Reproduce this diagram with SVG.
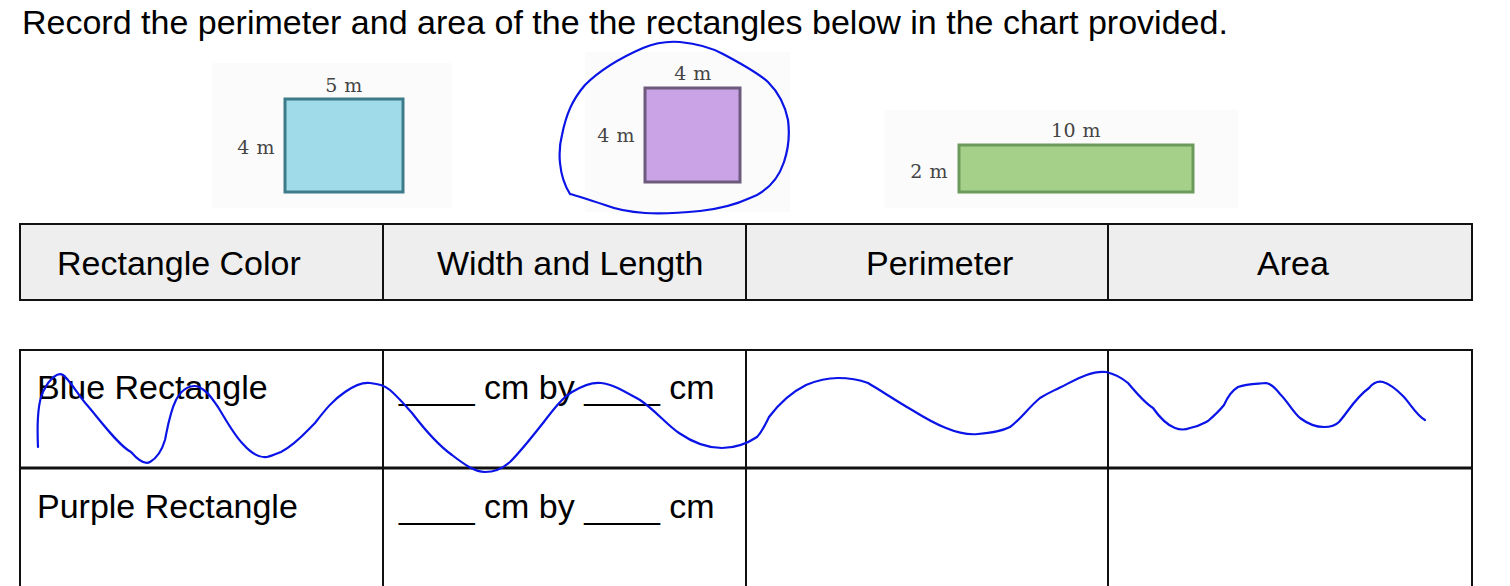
<svg xmlns="http://www.w3.org/2000/svg" width="1510" height="586" viewBox="0 0 1510 586">
<style>
.t{font-family:"Liberation Sans",Arial,sans-serif;font-size:34px;fill:#000}
.lbl{font-family:"DejaVu Serif","Liberation Serif",serif;font-size:19px;fill:#444;letter-spacing:0.5px}
.grid{stroke:#111;stroke-width:2;fill:none}
.ink{fill:none;stroke:#0a14e6;stroke-width:2.2;stroke-linecap:round;stroke-linejoin:round}
.bg{fill:#fbfbfb}
</style>
<rect width="1510" height="586" fill="#fff"/>
<text class="t" x="22" y="34">Record the perimeter and area of the the rectangles below in the chart provided.</text>

<g id="blue-rect">
<rect class="bg" x="212" y="63" width="240" height="145"/>
<rect x="285" y="99" width="118" height="93" fill="#a0dbea" stroke="#3e7b88" stroke-width="3"/>
<text class="lbl" x="344" y="92" text-anchor="middle">5 m</text>
<text class="lbl" x="275" y="154" text-anchor="end">4 m</text>
</g>

<g id="purple-rect">
<rect class="bg" x="585" y="52" width="205" height="160"/>
<rect x="645" y="88" width="95" height="94" fill="#c9a3e6" stroke="#6d5a7c" stroke-width="3"/>
<text class="lbl" x="693" y="80" text-anchor="middle">4 m</text>
<text class="lbl" x="635" y="142" text-anchor="end">4 m</text>
</g>

<g id="green-rect">
<rect class="bg" x="885" y="110" width="353" height="98"/>
<rect x="959" y="145" width="234" height="47" fill="#a4d08a" stroke="#6c9a5c" stroke-width="3"/>
<text class="lbl" x="1076" y="137" text-anchor="middle">10 m</text>
<text class="lbl" x="948" y="178" text-anchor="end">2 m</text>
</g>

<g id="header-table">
<rect x="20" y="224" width="1452" height="76" class="grid" style="fill:#eeeeee"/>
<line class="grid" x1="383" y1="224" x2="383" y2="300"/>
<line class="grid" x1="746" y1="224" x2="746" y2="300"/>
<line class="grid" x1="1108" y1="224" x2="1108" y2="300"/>
<text class="t" x="57" y="275">Rectangle Color</text>
<text class="t" x="437" y="275">Width and Length</text>
<text class="t" x="866" y="275">Perimeter</text>
<text class="t" x="1257" y="275">Area</text>
</g>

<g id="answer-table">
<rect class="grid" x="20" y="350" width="1452" height="250"/>
<line class="grid" x1="383" y1="350" x2="383" y2="600"/>
<line class="grid" x1="746" y1="350" x2="746" y2="600"/>
<line class="grid" x1="1108" y1="350" x2="1108" y2="600"/>
<line x1="20" y1="468" x2="1472" y2="468" stroke="#111" stroke-width="3"/>
<text class="t" x="37" y="399">Blue Rectangle</text>
<text class="t" x="399" y="399">____ cm by ____ cm</text>
<text class="t" x="37" y="518">Purple Rectangle</text>
<text class="t" x="399" y="518">____ cm by ____ cm</text>
</g>

<g id="connectors">
<path class="ink" d="M570,194 C558,175 558,150 562,135 C566,115 572,100 585,85 C600,70 620,58 643,48 C655,43 668,41 680,42 C700,44 712,48 723,54 C740,63 757,72 768,82 C778,92 785,105 788,120 C790,135 788,150 784,162 C778,180 766,192 750,198 C735,205 718,209 700,211 C680,213 662,214 645,213 C630,212 618,210 605,205 C590,200 578,196 570,194"/>
<path class="ink" d="M38,447 C37,425 38,400 44,390 C50,378 58,372 63,375 C70,380 78,395 87,405 C100,420 118,445 131,452 C138,460 145,465 150,462 C157,458 162,450 165,440 C168,425 170,412 176,400 C182,388 192,384 199,387 C208,391 213,400 218,407 C226,420 234,435 243,444 C250,452 258,458 267,457 C272,456 276,454 281,452 C295,445 305,433 315,423 C325,410 333,400 345,392 C355,385 362,382 370,383 C378,384 384,385 390,390 C398,397 405,405 412,413 C425,430 438,445 452,455 C465,465 475,472 485,472 C495,472 503,468 510,462 C520,452 532,437 543,423 C553,410 562,398 572,392 C582,386 592,382 601,383 C612,384 622,390 640,400 C655,410 667,425 679,433 C692,442 705,448 722,448 C735,448 745,445 757,437 C762,432 765,425 769,417 C778,405 792,392 806,385 C818,380 828,378 838,378 C850,378 860,380 868,383 C880,390 898,402 912,410 C925,418 935,424 946,428 C958,433 968,435 978,434 C990,433 1000,432 1010,427 C1020,420 1028,408 1040,398 C1048,393 1053,391 1059,388 C1072,382 1090,370 1106,372 C1115,374 1122,378 1128,383 C1138,395 1145,403 1153,408 C1160,418 1167,425 1175,428 C1180,430 1185,430 1190,428 C1200,426 1204,423 1208,421 C1215,415 1220,410 1224,405 C1228,396 1233,390 1238,387 C1248,383 1258,384 1266,383 C1272,384 1276,389 1280,394 C1288,402 1293,412 1300,418 C1308,424 1316,427 1324,427 C1330,427 1335,426 1339,422 C1348,412 1355,398 1369,388 C1373,383 1378,381 1383,382 C1390,384 1397,390 1403,396 C1410,403 1416,415 1425,420"/>
</g>
</svg>
